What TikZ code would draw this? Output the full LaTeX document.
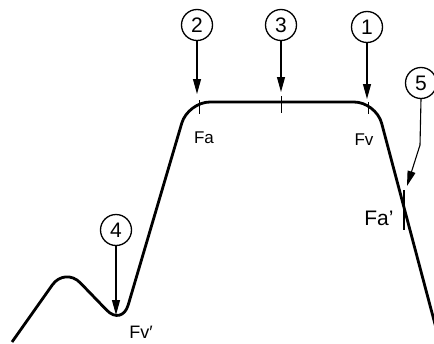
\documentclass[tikz,border=0pt]{standalone}
\usepackage{fontspec}
\setmainfont{Liberation Sans}
\usetikzlibrary{arrows.meta}

\begin{document}
\begin{tikzpicture}[x=1pt, y=-1pt, line join=round,
  num/.style={circle, draw, line width=1.3pt, minimum size=31pt, inner sep=0pt, font=\fontsize{21}{21}\selectfont},
  pointer/.style={line width=1.1pt, -{Triangle[length=15pt,width=8pt]}},
  lbl/.style={font=\fontsize{17}{17}\selectfont}]
  \useasboundingbox (0,0) rectangle (434,343);
  \clip (0,0) rectangle (434,343);
  % the curve
  \draw[line width=2.8pt, rounded corners=22pt]
    (12,342) -- (65,267) -- (122,326) -- (188,102) -- (376,102) -- (440,343);
  % ticks on the curve
  \coordinate (fa) at (199,107);
  \coordinate (mid) at (281,102);
  \coordinate (fv) at (368,108);
  \coordinate (fa2) at (404,210);
  \draw[line width=0.9pt] (fa) ++(0,-7) -- ++(0,14);
  \draw[line width=0.9pt] (mid) ++(0,-6) -- ++(0,17);
  \draw[line width=0.9pt] (fv) ++(0,-6) -- ++(0,12);
  \draw[line width=1.7pt] (fa2) ++(0,-20) -- ++(0,40);
  % numbered circles
  \node[num] (n1) at (367,27) {1};
  \node[num] (n2) at (197,25) {2};
  \node[num] (n3) at (281,25) {3};
  \node[num] (n4) at (116,230) {4};
  \node[num] (n5) at (421,83) {5};
  % arrow tips
  \coordinate (t1) at (367,99);
  \coordinate (t2) at (197,94);
  \coordinate (t3) at (281,92);
  \coordinate (t4) at (116,315);
  \coordinate (b5) at (420,145);
  \coordinate (t5) at (407,186);
  \draw[pointer] (n1) -- (t1);
  \draw[pointer] (n2) -- (t2);
  \draw[pointer] (n3) -- (t3);
  \draw[pointer] (n4) -- (t4);
  \draw[pointer] (n5.south) -- (b5) -- (t5);
  % labels
  \node[lbl] (lfa) at (204,138) {Fa};
  \node[lbl] (lfv) at (364,140) {Fv};
  \node[font=\fontsize{21}{21}\selectfont] (lfa2) at (379,218) {Fa'};
  \node[font=\fontsize{18}{18}\selectfont] (lfv2) at (141,332) {Fv′};
\end{tikzpicture}
\end{document}
